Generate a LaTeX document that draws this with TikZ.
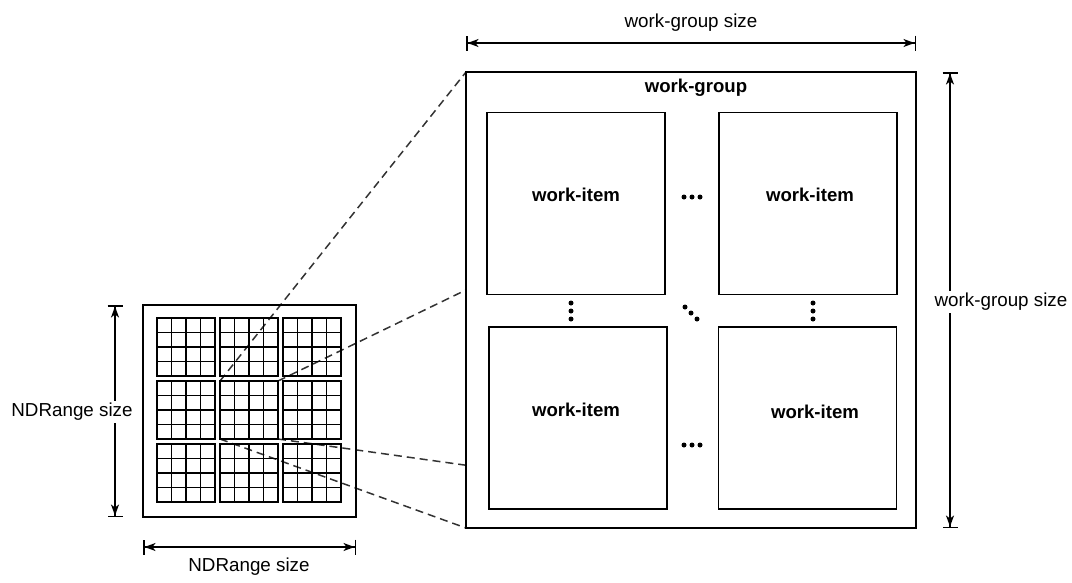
\documentclass[tikz,border=0pt]{standalone}
\usepackage{fontspec}
\setmainfont{Liberation Sans}
\usetikzlibrary{arrows.meta,backgrounds}

\newcommand{\groupSize}{58}
\newcommand{\groupStep}{63}
\newcommand{\cellSize}{14.5}

\tikzset{
  box/.style={draw, line width=1.7pt, inner sep=0, outer sep=0},
  item/.style={box, fill=white, minimum width=178, minimum height=182},
  dim/.style={line width=1.5pt,
    {Bar[width=15pt]Stealth[length=11pt,width=8pt,inset=3pt]}-{Stealth[length=11pt,width=8pt,inset=3pt]Bar[width=15pt]}},
  dimtext/.style={fill=white, inner sep=2pt},
  boldtext/.style={font=\fontsize{18.6}{22}\selectfont\bfseries},
  zoomline/.style={dash pattern=on 8pt off 5pt, line width=1.5pt, black!80},
  dotmark/.style={circle, fill, inner sep=0, minimum size=5pt},
}

\begin{document}
\begin{tikzpicture}[x=1pt, y=-1pt, font=\fontsize{18.8}{22}\selectfont]
  \useasboundingbox (0,0) rectangle (1072,582);

  % NDRange with 3x3 work-groups of 4x4 work-items
  \node[box] (nd) [minimum width=213, minimum height=212] at (249.5,411) {};
  \foreach \i in {0,1,2}
    \foreach \j in {0,1,2} {
      \node[box, line width=1.6pt, minimum size=\groupSize] (g\i\j)
        at (157+\groupSize/2+\i*\groupStep, 318+\groupSize/2+\j*\groupStep) {};
      \foreach \k in {1,2,3} {
        \draw[line width=1.5pt] ([xshift=\k*\cellSize]g\i\j.north west) -- ([xshift=\k*\cellSize]g\i\j.south west);
        \draw[line width=1.5pt] ([yshift=-\k*\cellSize]g\i\j.north west) -- ([yshift=-\k*\cellSize]g\i\j.north east);
      }
    }

  % one work-group, zoomed
  \node[box, fill=white] (wg) [minimum width=450, minimum height=456] at (691,300) {};
  \node[boldtext] (wg_text) at (696,88) {work-group};

  \node[item] (wi_tl) at (576,203.5) {};
  \node[item] (wi_tr) at (808,203.5) {};
  \node[item] (wi_bl) at (578,418) {};
  \node[item] (wi_br) at (807.5,418) {};
  \node[boldtext] (wi_tl_text) at (576,195) {work-item};
  \node[boldtext] (wi_tr_text) at (810,195) {work-item};
  \node[boldtext] (wi_bl_text) at (576,410) {work-item};
  \node[boldtext] (wi_br_text) at (815,412) {work-item};

  \foreach \d in {-8,0,8} {
    \node[dotmark] at (692+\d,197) {};
    \node[dotmark] at (692+\d,445) {};
    \node[dotmark] at (571,311+\d) {};
    \node[dotmark] at (813,311+\d) {};
    \node[dotmark] at (691+0.75*\d,313+0.75*\d) {};
  }

  \begin{scope}[on background layer]
    \draw[zoomline] (g11.north west) -- (wg.north west);
    \draw[zoomline] (g11.north east) -- (wg.north east);
    \draw[zoomline] (g11.south west) -- (wg.south west);
    \draw[zoomline] (g11.south east) -- (wg.south east);
  \end{scope}

  % sizes
  \draw[dim] ([xshift=-28]nd.north west) -- ([xshift=-28]nd.south west);
  \draw[dim] ([yshift=-30]nd.south west) -- ([yshift=-30]nd.south east);
  \draw[dim] ([yshift=29]wg.north west) -- ([yshift=29]wg.north east);
  \draw[dim] ([xshift=34]wg.north east) -- ([xshift=34]wg.south east);

  \node[dimtext] (nd_v_text) at (72,412) {NDRange size};
  \node[dimtext] (nd_h_text) at (249,567) {NDRange size};
  \node[dimtext] (wg_h_text) at (691,23) {work-group size};
  \node[dimtext] (wg_v_text) at (1001,302) {work-group size};
\end{tikzpicture}
\end{document}
